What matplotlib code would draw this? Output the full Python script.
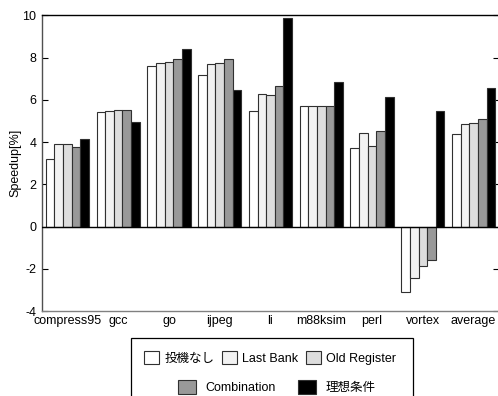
import matplotlib
matplotlib.use("Agg")
import matplotlib.pyplot as plt
import matplotlib.patches as mpatches
import numpy as np

plt.rcParams['font.family'] = ['Liberation Sans', 'Noto Sans CJK JP', 'DejaVu Sans']
plt.rcParams['axes.unicode_minus'] = False

# data
benchmarks = ["compress95", "gcc", "go", "ijpeg", "li", "m88ksim", "perl", "vortex", "average"]
series_names = ["投機なし", "Last Bank", "Old Register", "Combination", "理想条件"]
no_spec = [3.2, 5.4, 7.6, 7.15, 5.45, 5.7, 3.7, -3.12, 4.37]
last_bank = [3.9, 5.45, 7.75, 7.7, 6.26, 5.72, 4.45, -2.42, 4.86]
old_register = [3.9, 5.5, 7.8, 7.75, 6.25, 5.72, 3.79, -1.86, 4.88]
combination = [3.75, 5.5, 7.95, 7.92, 6.65, 5.72, 4.5, -1.6, 5.07]
ideal = [4.15, 4.95, 8.4, 6.45, 9.86, 6.85, 6.15, 5.49, 6.54]
series = [no_spec, last_bank, old_register, combination, ideal]
colors = ["white", "#f2f2f2", "#dddddd", "#999999", "black"]

fig = plt.figure(figsize=(4.98, 3.96), dpi=100)
W, H = 498, 396
ax = fig.add_axes([42 / W, 1 - 311 / H, (499 - 42) / W, (311 - 15.3) / H])

x = np.arange(len(benchmarks))
bw = 0.17
for i, (vals, c) in enumerate(zip(series, colors)):
    ax.bar(x + (i - 2) * bw, vals, bw, color=c, edgecolor="#303030", linewidth=0.8,
           label=series_names[i], zorder=2)

ax.axhline(0, color="black", lw=1.0, zorder=3)

ax.set_xlim(-0.5, len(benchmarks) - 0.5)
ax.set_ylim(-4, 10)
ax.set_yticks(np.arange(-4, 11, 2))
ax.set_xticks(x)
ax.set_xticklabels(benchmarks, fontsize=9)
ax.tick_params(axis="x", length=0, pad=3)
ax.tick_params(axis="y", direction="in", length=4, labelsize=9, right=True, pad=4)
ax.set_ylabel("Speedup[%]", fontsize=9, labelpad=1)

ax.spines["top"].set_color("black")
ax.spines["left"].set_color("#505050")
ax.spines["bottom"].set_color("#808080")
ax.spines["right"].set_visible(False)
for s in ["top", "left", "bottom"]:
    ax.spines[s].set_linewidth(1.0)

# legend: framed box cut off by figure bottom, two centered rows
frame = mpatches.Rectangle((131 / W, -0.02), (413 - 131) / W, (396 - 338) / H + 0.02,
                           transform=fig.transFigure, fill=False, lw=0.9, edgecolor="black")
fig.patches.append(frame)

handles = [mpatches.Patch(facecolor=c, edgecolor="#303030", linewidth=0.8) for c in colors]
fig.legend(handles[:3], series_names[:3], loc="center", bbox_to_anchor=(270 / W, 1 - 358 / H),
           ncol=3, frameon=False, fontsize=9, handlelength=1.2, handleheight=1.2,
           columnspacing=0.6, handletextpad=0.4, borderpad=0)
fig.legend(handles[3:], series_names[3:], loc="center", bbox_to_anchor=(277 / W, 1 - 387 / H),
           ncol=2, frameon=False, fontsize=9, handlelength=1.4, handleheight=1.4,
           columnspacing=1.8, handletextpad=0.8, borderpad=0)

fig.savefig("out.png", dpi=100)
